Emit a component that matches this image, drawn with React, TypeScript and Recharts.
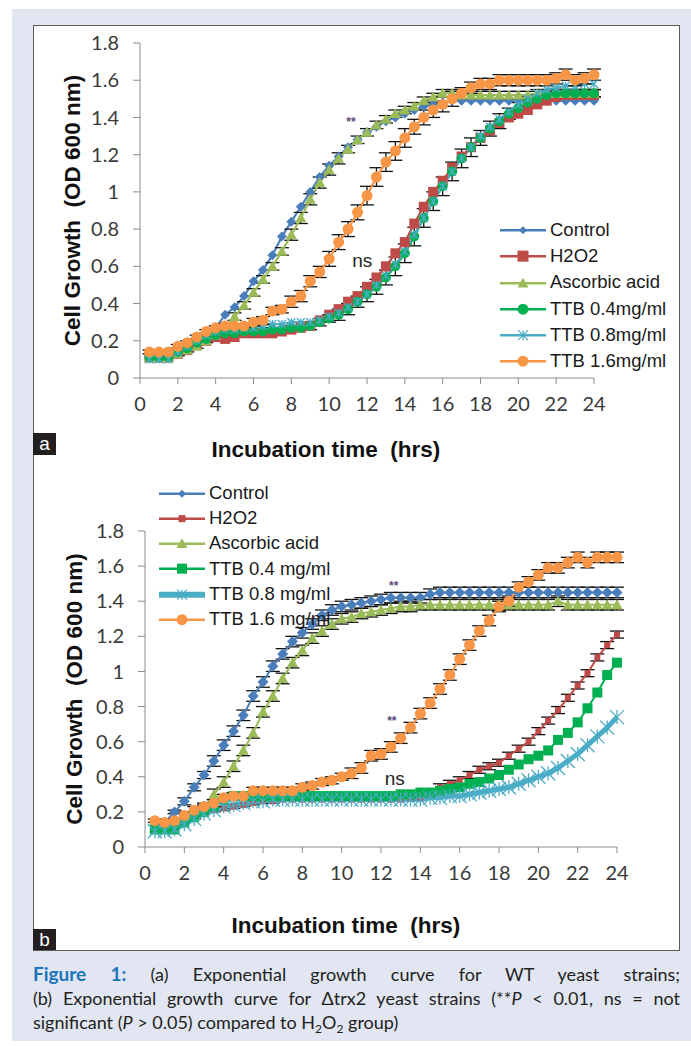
import React from 'react'
import { LineChart, Line, XAxis, YAxis, ErrorBar, Legend, ReferenceDot } from 'recharts'

// sampling times (h)
const hours = [
  0.5, 1, 1.5, 2, 2.5, 3, 3.5, 4,
  4.5, 5, 5.5, 6, 6.5, 7, 7.5, 8,
  8.5, 9, 9.5, 10, 10.5, 11, 11.5, 12,
  12.5, 13, 13.5, 14, 14.5, 15, 15.5, 16,
  16.5, 17, 17.5, 18, 18.5, 19, 19.5, 20,
  20.5, 21, 21.5, 22, 22.5, 23, 23.5, 24,
]
const xTicks = [0, 2, 4, 6, 8, 10, 12, 14, 16, 18, 20, 22, 24]
const yTicks = [0, 0.2, 0.4, 0.6, 0.8, 1, 1.2, 1.4, 1.6, 1.8]

// ---- panel a : WT ----
const aControl = [
  0.12, 0.12, 0.12, 0.15, 0.18, 0.2, 0.23, 0.27,
  0.34, 0.38, 0.44, 0.52, 0.58, 0.66, 0.76, 0.84,
  0.92, 1.0, 1.08, 1.14, 1.19, 1.24, 1.28, 1.32,
  1.35, 1.38, 1.4, 1.42, 1.44, 1.46, 1.47, 1.48,
  1.49, 1.49, 1.49, 1.49, 1.49, 1.49, 1.49, 1.49,
  1.49, 1.49, 1.49, 1.49, 1.49, 1.49, 1.49, 1.49,
]
const aH2O2 = [
  0.11, 0.11, 0.11, 0.13, 0.15, 0.18, 0.2, 0.22,
  0.21, 0.22, 0.24, 0.24, 0.24, 0.24, 0.25, 0.26,
  0.27, 0.28, 0.31, 0.34, 0.37, 0.41, 0.44, 0.49,
  0.54, 0.6, 0.67, 0.73, 0.83, 0.92, 1.0, 1.06,
  1.13, 1.19, 1.24, 1.29, 1.33, 1.37, 1.4, 1.42,
  1.44, 1.47, 1.49, 1.51, 1.52, 1.52, 1.52, 1.52,
]
const aAsc = [
  0.11, 0.11, 0.11, 0.13, 0.15, 0.17, 0.2, 0.23,
  0.27, 0.33, 0.39, 0.46, 0.53, 0.6, 0.68, 0.77,
  0.86, 0.96, 1.05, 1.12, 1.18, 1.23, 1.28, 1.32,
  1.36, 1.39, 1.42, 1.44, 1.46, 1.49, 1.51, 1.53,
  1.53, 1.52, 1.52, 1.52, 1.52, 1.52, 1.52, 1.52,
  1.52, 1.53, 1.53, 1.53, 1.53, 1.53, 1.53, 1.53,
]
const aT04 = [
  0.11, 0.11, 0.11, 0.14, 0.16, 0.19, 0.21, 0.23,
  0.24, 0.24, 0.25, 0.25, 0.25, 0.26, 0.26, 0.27,
  0.27, 0.28, 0.3, 0.32, 0.34, 0.37, 0.41, 0.45,
  0.49, 0.54, 0.6, 0.67, 0.76, 0.86, 0.95, 1.03,
  1.11, 1.18, 1.24, 1.29, 1.34, 1.38, 1.42, 1.45,
  1.48, 1.5, 1.52, 1.53, 1.53, 1.53, 1.53, 1.53,
]
const aT08 = [
  0.1, 0.1, 0.1, 0.14, 0.17, 0.2, 0.23, 0.25,
  0.26, 0.26, 0.27, 0.27, 0.28, 0.29, 0.29, 0.3,
  0.3, 0.3, 0.31, 0.33, 0.35, 0.38, 0.41, 0.45,
  0.5, 0.55, 0.61, 0.68, 0.77, 0.86, 0.95, 1.03,
  1.11, 1.18, 1.24, 1.3, 1.35, 1.39, 1.43, 1.47,
  1.5, 1.53, 1.55, 1.56, 1.57, 1.57, 1.58, 1.58,
]
const aT16 = [
  0.14, 0.14, 0.14, 0.17, 0.19, 0.22, 0.25, 0.27,
  0.28, 0.28, 0.28, 0.3, 0.31, 0.36, 0.37, 0.41,
  0.44, 0.52, 0.57, 0.64, 0.73, 0.8, 0.89, 0.98,
  1.08, 1.16, 1.22, 1.29, 1.35, 1.4, 1.44, 1.47,
  1.5, 1.53, 1.56, 1.58, 1.58, 1.6, 1.6, 1.6,
  1.6, 1.6, 1.6, 1.61, 1.63, 1.6, 1.61, 1.63,
]
const aErrAsc = [
  0, 0, 0, 0.01, 0.01, 0.01, 0.01, 0.01,
  0.02, 0.02, 0.02, 0.02, 0.02, 0.02, 0.02, 0.03,
  0.03, 0.03, 0.03, 0.03, 0.03, 0.02, 0.02, 0.02,
  0.02, 0.02, 0.02, 0.02, 0.02, 0.02, 0.02, 0.02,
  0.02, 0.02, 0.02, 0.02, 0.02, 0.02, 0.02, 0.02,
  0.02, 0.02, 0.02, 0.02, 0.02, 0.02, 0.02, 0.02,
]
const aErrT04 = [
  0, 0, 0, 0.01, 0.01, 0.01, 0.01, 0.01,
  0.01, 0.01, 0.01, 0.01, 0.01, 0.01, 0.01, 0.01,
  0.01, 0.02, 0.02, 0.02, 0.03, 0.03, 0.03, 0.04,
  0.04, 0.04, 0.05, 0.05, 0.05, 0.05, 0.05, 0.05,
  0.05, 0.05, 0.05, 0.04, 0.04, 0.04, 0.03, 0.03,
  0.03, 0.02, 0.02, 0.02, 0.02, 0.02, 0.02, 0.02,
]
const aErrT16 = [
  0.01, 0.01, 0.01, 0.01, 0.01, 0.01, 0.01, 0.01,
  0.01, 0.01, 0.01, 0.02, 0.02, 0.02, 0.02, 0.03,
  0.03, 0.03, 0.03, 0.04, 0.04, 0.04, 0.04, 0.05,
  0.05, 0.05, 0.05, 0.05, 0.04, 0.04, 0.04, 0.04,
  0.04, 0.03, 0.03, 0.03, 0.03, 0.03, 0.03, 0.03,
  0.03, 0.03, 0.03, 0.03, 0.03, 0.03, 0.03, 0.03,
]

// ---- panel b : Δtrx2 ----
const bControl = [
  0.12, 0.14, 0.2, 0.26, 0.34, 0.41, 0.49, 0.58,
  0.66, 0.75, 0.86, 0.94, 1.03, 1.1, 1.17, 1.22,
  1.27, 1.32, 1.35, 1.37, 1.38, 1.39, 1.4, 1.41,
  1.42, 1.42, 1.42, 1.42, 1.44, 1.45, 1.45, 1.45,
  1.45, 1.45, 1.45, 1.45, 1.45, 1.45, 1.45, 1.45,
  1.45, 1.45, 1.45, 1.45, 1.45, 1.45, 1.45, 1.45,
]
const bH2O2 = [
  0.11, 0.11, 0.12, 0.15, 0.18, 0.2, 0.21, 0.22,
  0.23, 0.24, 0.25, 0.26, 0.26, 0.27, 0.27, 0.27,
  0.27, 0.27, 0.27, 0.27, 0.27, 0.27, 0.27, 0.27,
  0.27, 0.27, 0.28, 0.28, 0.3, 0.34, 0.36, 0.38,
  0.41, 0.44, 0.46, 0.48, 0.52, 0.56, 0.6, 0.66,
  0.72, 0.78, 0.85, 0.92, 0.99, 1.08, 1.15, 1.21,
]
const bAsc = [
  0.11, 0.11, 0.12, 0.15, 0.18, 0.22, 0.3, 0.37,
  0.46, 0.55, 0.65, 0.77, 0.86, 0.96, 1.05, 1.12,
  1.19, 1.23, 1.27, 1.3, 1.31, 1.33, 1.34, 1.35,
  1.36, 1.37, 1.37, 1.38, 1.38, 1.38, 1.38, 1.38,
  1.38, 1.38, 1.38, 1.38, 1.38, 1.38, 1.38, 1.38,
  1.38, 1.4, 1.38, 1.38, 1.38, 1.38, 1.38, 1.38,
]
const bT04 = [
  0.1, 0.1, 0.1, 0.14, 0.17, 0.2, 0.23, 0.27,
  0.29, 0.29, 0.29, 0.29, 0.29, 0.29, 0.29, 0.29,
  0.29, 0.29, 0.29, 0.29, 0.29, 0.29, 0.29, 0.29,
  0.29, 0.3, 0.3, 0.31, 0.31, 0.32, 0.33, 0.34,
  0.36, 0.37, 0.39, 0.41, 0.44, 0.47, 0.5, 0.52,
  0.55, 0.61, 0.65, 0.71, 0.79, 0.88, 0.98, 1.05,
]
const bT08 = [
  0.09, 0.09, 0.1, 0.13, 0.16, 0.19, 0.21, 0.23,
  0.24, 0.25, 0.26, 0.26, 0.27, 0.27, 0.27, 0.27,
  0.27, 0.27, 0.27, 0.27, 0.27, 0.27, 0.27, 0.27,
  0.27, 0.27, 0.27, 0.27, 0.28, 0.28, 0.29, 0.29,
  0.3, 0.31, 0.32, 0.33, 0.34, 0.36, 0.38, 0.4,
  0.42, 0.45, 0.49, 0.53, 0.58, 0.63, 0.68, 0.74,
]
const bT16 = [
  0.15, 0.14, 0.15, 0.18, 0.21, 0.23, 0.25, 0.28,
  0.29, 0.29, 0.32, 0.32, 0.32, 0.32, 0.32, 0.34,
  0.35, 0.37, 0.38, 0.4, 0.42, 0.45, 0.52, 0.53,
  0.57, 0.62, 0.68, 0.76, 0.82, 0.9, 0.98, 1.07,
  1.15, 1.23, 1.29, 1.37, 1.4, 1.48, 1.51, 1.55,
  1.59, 1.59, 1.62, 1.65, 1.62, 1.65, 1.65, 1.65,
]
const bErrCtrl = [
  0, 0.01, 0.01, 0.02, 0.02, 0.02, 0.03, 0.03,
  0.03, 0.03, 0.03, 0.03, 0.03, 0.03, 0.03, 0.03,
  0.03, 0.03, 0.03, 0.03, 0.03, 0.03, 0.03, 0.03,
  0.03, 0.03, 0.03, 0.03, 0.03, 0.03, 0.03, 0.03,
  0.03, 0.03, 0.03, 0.03, 0.03, 0.03, 0.03, 0.03,
  0.03, 0.03, 0.03, 0.03, 0.03, 0.03, 0.03, 0.03,
]
const bErrAsc = [
  0, 0, 0.01, 0.01, 0.02, 0.02, 0.03, 0.03,
  0.03, 0.03, 0.03, 0.03, 0.03, 0.03, 0.03, 0.03,
  0.03, 0.03, 0.03, 0.03, 0.03, 0.03, 0.03, 0.03,
  0.03, 0.03, 0.03, 0.03, 0.03, 0.03, 0.03, 0.03,
  0.03, 0.03, 0.03, 0.03, 0.03, 0.03, 0.03, 0.03,
  0.03, 0.03, 0.03, 0.03, 0.03, 0.03, 0.03, 0.03,
]
const bErrT16 = [
  0.01, 0.01, 0.01, 0.02, 0.02, 0.02, 0.02, 0.02,
  0.02, 0.02, 0.02, 0.02, 0.02, 0.02, 0.02, 0.02,
  0.02, 0.02, 0.02, 0.02, 0.03, 0.03, 0.03, 0.03,
  0.03, 0.03, 0.03, 0.03, 0.03, 0.03, 0.03, 0.03,
  0.03, 0.03, 0.03, 0.03, 0.03, 0.03, 0.03, 0.03,
  0.03, 0.03, 0.03, 0.03, 0.03, 0.03, 0.03, 0.03,
]
const bErrH2O2 = [
  0, 0, 0, 0.01, 0.01, 0.01, 0.01, 0.01,
  0.01, 0.01, 0.01, 0.01, 0.01, 0.01, 0.01, 0.01,
  0.01, 0.01, 0.01, 0.01, 0.01, 0.01, 0.01, 0.01,
  0.01, 0.01, 0.01, 0.01, 0.02, 0.02, 0.02, 0.02,
  0.02, 0.02, 0.02, 0.02, 0.02, 0.02, 0.02, 0.02,
  0.02, 0.02, 0.02, 0.02, 0.02, 0.02, 0.02, 0.02,
]

// annotations (text placed at data coords)
const aNotes = [
  { t: 11.15, v: 1.375, text: '**' },
  { t: 11.75, v: 0.63, text: 'ns' },
]
const bNotes = [
  { t: 12.65, v: 1.49, text: '**' },
  { t: 12.55, v: 0.72, text: '**' },
  { t: 12.7, v: 0.39, text: 'ns' },
]

const rowsA = hours.map((t, i) => ({
  t, ctrl: aControl[i], h2o2: aH2O2[i], asc: aAsc[i], t04: aT04[i], t08: aT08[i], t16: aT16[i],
  ascErr: aErrAsc[i], t04Err: aErrT04[i], t16Err: aErrT16[i],
}))
const rowsB = hours.map((t, i) => ({
  t, ctrl: bControl[i], h2o2: bH2O2[i], asc: bAsc[i], t04: bT04[i], t08: bT08[i], t16: bT16[i],
  ctrlErr: bErrCtrl[i], ascErr: bErrAsc[i], t16Err: bErrT16[i], h2o2Err: bErrH2O2[i],
}))

const BLUE = '#4a7ebb'
const RED = '#be4b48'
const OLIVE = '#9bbb59'
const GREEN = '#00b050'
const TEAL = '#4bacc6'
const ORANGE = '#f79646'

type Shape = 'diamond' | 'square' | 'triangle' | 'circle' | 'star'
interface SeriesDef {
  key: string; name: string; color: string; shape: Shape
  size: number; width: number; legendSize: number; legendWidth: number; err?: string
}

const seriesA: SeriesDef[] = [
  { key: 'ctrl', name: 'Control', color: BLUE, shape: 'diamond', size: 10, width: 2.2, legendSize: 8, legendWidth: 2.5 },
  { key: 'h2o2', name: 'H2O2', color: RED, shape: 'square', size: 10, width: 2.2, legendSize: 11, legendWidth: 2.5 },
  { key: 'asc', name: 'Ascorbic acid', color: OLIVE, shape: 'triangle', size: 11, width: 2.2, legendSize: 11, legendWidth: 2.5, err: 'ascErr' },
  { key: 't04', name: 'TTB 0.4mg/ml', color: GREEN, shape: 'circle', size: 10, width: 2.2, legendSize: 11, legendWidth: 2.5, err: 't04Err' },
  { key: 't08', name: 'TTB 0.8mg/ml', color: TEAL, shape: 'star', size: 8, width: 2.2, legendSize: 10, legendWidth: 2.5 },
  { key: 't16', name: 'TTB 1.6mg/ml', color: ORANGE, shape: 'circle', size: 11, width: 2.2, legendSize: 11, legendWidth: 2.5, err: 't16Err' },
]
const seriesB: SeriesDef[] = [
  { key: 'ctrl', name: 'Control', color: BLUE, shape: 'diamond', size: 11, width: 2, legendSize: 8, legendWidth: 2.5, err: 'ctrlErr' },
  { key: 'h2o2', name: 'H2O2', color: RED, shape: 'square', size: 6, width: 2, legendSize: 7, legendWidth: 2.5, err: 'h2o2Err' },
  { key: 'asc', name: 'Ascorbic acid', color: OLIVE, shape: 'triangle', size: 11, width: 2, legendSize: 11, legendWidth: 2.5, err: 'ascErr' },
  { key: 't04', name: 'TTB 0.4 mg/ml', color: GREEN, shape: 'square', size: 10, width: 2, legendSize: 10, legendWidth: 2.5 },
  { key: 't08', name: 'TTB 0.8 mg/ml', color: TEAL, shape: 'star', size: 14, width: 5, legendSize: 10, legendWidth: 6 },
  { key: 't16', name: 'TTB 1.6 mg/ml', color: ORANGE, shape: 'circle', size: 11, width: 2, legendSize: 11, legendWidth: 2.5, err: 't16Err' },
]

const SANS = '"Liberation Sans", Arial, sans-serif'
const titleStyle: React.CSSProperties = { fontFamily: SANS, fontWeight: 700, fontSize: 22.5, fill: '#111' }
const tickStyle = { fontSize: 20, fill: '#3a3a3a', fontFamily: 'Lato, sans-serif' }

function Marker({ shape, cx, cy, size, color }: { shape: Shape; cx: number; cy: number; size: number; color: string }) {
  const s = size / 2
  if (shape === 'diamond') return <polygon points={`${cx},${cy - s} ${cx + s},${cy} ${cx},${cy + s} ${cx - s},${cy}`} fill={color} />
  if (shape === 'square') return <rect x={cx - s} y={cy - s} width={size} height={size} fill={color} />
  if (shape === 'triangle') return <polygon points={`${cx},${cy - s} ${cx + s},${cy + s * 0.8} ${cx - s},${cy + s * 0.8}`} fill={color} />
  if (shape === 'circle') return <circle cx={cx} cy={cy} r={s} fill={color} />
  return (
    <g stroke={color} strokeWidth={1.3}>
      <line x1={cx - s} y1={cy - s} x2={cx + s} y2={cy + s} />
      <line x1={cx + s} y1={cy - s} x2={cx - s} y2={cy + s} />
      <line x1={cx} y1={cy - s} x2={cx} y2={cy + s} />
    </g>
  )
}

function dotFor(d: SeriesDef) {
  return (p: any) => {
    if (p.cx == null || p.cy == null) return <g key={`e-${d.key}-${p.index}`} />
    return (
      <g key={`m-${d.key}-${p.index}`}>
        <Marker shape={d.shape} cx={p.cx} cy={p.cy} size={d.size} color={d.color} />
      </g>
    )
  }
}

function legendFor(defs: SeriesDef[], rowH: number) {
  return () => (
    <div style={{ fontFamily: SANS, fontSize: 18.5, color: '#1a1a1a' }}>
      {defs.map((d) => (
        <div key={d.key} style={{ display: 'flex', alignItems: 'center', height: rowH }}>
          <svg width={48} height={rowH} style={{ display: 'block' }}>
            <line x1={1} y1={rowH / 2} x2={47} y2={rowH / 2} stroke={d.color} strokeWidth={d.legendWidth} />
            <Marker shape={d.shape} cx={24} cy={rowH / 2} size={d.legendSize} color={d.color} />
          </svg>
          <span style={{ marginLeft: 3, whiteSpace: 'nowrap', lineHeight: 1 }}>{d.name}</span>
        </div>
      ))}
    </div>
  )
}

function xTitle(dx: number, dy: number) {
  return (props: any) => {
    const vb = props.viewBox ?? { x: 0, y: 0, width: 0, height: 0 }
    return (
      <text x={vb.x + vb.width / 2 + dx} y={vb.y + dy} textAnchor="middle" dominantBaseline="central" style={titleStyle}>
        {'Incubation time\u00a0 (hrs)'}
      </text>
    )
  }
}

function yTitle(cx: number) {
  return (props: any) => {
    const vb = props.viewBox ?? { x: 0, y: 0, width: 0, height: 0 }
    const cy = vb.y + vb.height / 2
    return (
      <text x={cx} y={cy} transform={`rotate(-90 ${cx} ${cy})`} textAnchor="middle" dominantBaseline="central" style={titleStyle}>
        {'Cell Growth\u00a0 (OD 600 nm)'}
      </text>
    )
  }
}

function noteLabel(text: string) {
  return text === 'ns'
    ? { value: text, position: 'center' as const, fill: '#262626', fontSize: 19, fontFamily: SANS }
    : { value: text, position: 'center' as const, fill: '#5e4a7d', fontSize: 12, fontFamily: SANS, fontWeight: 700 }
}

interface PanelProps {
  rows: any[]; defs: SeriesDef[]; notes: { t: number; v: number; text: string }[]
  height: number; margin: { top: number; right: number; bottom: number; left: number }
  legendPos: { left: number; top: number }; rowH: number
  xTitleDx: number; xTitleDy: number; yTitleX: number
}

function Panel({ rows, defs, notes, height, margin, legendPos, rowH, xTitleDx, xTitleDy, yTitleX }: PanelProps) {
  return (
    <LineChart width={691} height={height} data={rows} margin={margin}>
      <XAxis
        dataKey="t" type="number" domain={[0, 24]} ticks={xTicks} interval={0} height={30}
        tick={tickStyle} tickSize={6} tickMargin={13}
        axisLine={{ stroke: '#8c8c8c' }} tickLine={{ stroke: '#8c8c8c' }}
        label={xTitle(xTitleDx, xTitleDy)}
      />
      <YAxis
        type="number" domain={[0, 1.8]} ticks={yTicks} interval={0} width={40}
        tick={tickStyle} tickSize={7} tickMargin={14}
        axisLine={{ stroke: '#8c8c8c' }} tickLine={{ stroke: '#8c8c8c' }}
        label={yTitle(yTitleX)}
      />
      <Legend
        layout="vertical" align="center" verticalAlign="middle"
        wrapperStyle={{ left: legendPos.left, top: legendPos.top, width: 190 }}
        content={legendFor(defs, rowH)}
      />
      {defs.map((d) => (
        <Line
          key={d.key} dataKey={d.key} name={d.name} type="linear"
          stroke={d.color} strokeWidth={d.width}
          dot={dotFor(d)} activeDot={false} isAnimationActive={false}
        >
          {d.err ? (
            <ErrorBar dataKey={d.err} direction="y" width={7} stroke="#111" strokeWidth={1.3} isAnimationActive={false} />
          ) : null}
        </Line>
      ))}
      {notes.map((n, i) => (
        <ReferenceDot key={i} x={n.t} y={n.v} r={0} fill="none" stroke="none" label={noteLabel(n.text)} />
      ))}
    </LineChart>
  )
}

function Tag({ letter, top, h }: { letter: string; top: number; h: number }) {
  return (
    <div style={{
      position: 'absolute', left: 33, top, width: 23, height: h, background: '#231f20', color: '#fff',
      fontFamily: SANS, fontSize: 19, lineHeight: `${h}px`, textAlign: 'center',
    }}>{letter}</div>
  )
}

const sub: React.CSSProperties = { fontSize: 12, verticalAlign: -4, lineHeight: 0 }
const justLine: React.CSSProperties = { textAlign: 'justify', textAlignLast: 'justify', whiteSpace: 'nowrap' }

export default function App() {
  return (
    <div style={{ position: 'absolute', left: 0, top: 0, width: 691, height: 1046, background: '#fff', overflow: 'hidden' }}>
      <div style={{ position: 'absolute', left: 12, top: 9, width: 679, height: 1032, background: '#e1e6f2' }} />
      <div style={{ position: 'absolute', left: 33, top: 25, width: 645, height: 924, background: '#fff', border: '1px solid #5a5a5a' }} />

      <div style={{ position: 'absolute', left: 0, top: 0 }}>
        <Panel
          rows={rowsA} defs={seriesA} notes={aNotes} height={470}
          margin={{ top: 43, right: 97, bottom: 62, left: 100 }}
          legendPos={{ left: 499, top: 217 }} rowH={26.3}
          xTitleDx={-41} xTitleDy={71} yTitleX={72}
        />
      </div>
      <div style={{ position: 'absolute', left: 0, top: 470 }}>
        <Panel
          rows={rowsB} defs={seriesB} notes={bNotes} height={480}
          margin={{ top: 61, right: 74, bottom: 73, left: 105 }}
          legendPos={{ left: 158, top: 10.5 }} rowH={25.3}
          xTitleDx={-35} xTitleDy={78} yTitleX={74}
        />
      </div>

      <Tag letter="a" top={433} h={22} />
      <Tag letter="b" top={929} h={21} />

      <div style={{
        position: 'absolute', left: 33, top: 962, width: 647,
        fontFamily: 'Lato, sans-serif', fontSize: 18, lineHeight: '24px', color: '#231f20',
      }}>
        <div style={justLine}>
          <b style={{ color: '#1a75bb', fontSize: 19 }}>Figure 1:</b> (a) Exponential growth curve for WT yeast strains;
        </div>
        <div style={justLine}>
          (b) Exponential growth curve for Δtrx2 yeast strains (**<i>P</i> &lt; 0.01, ns = not
        </div>
        <div>
          significant (<i>P</i> &gt; 0.05) compared to H<span style={sub}>2</span>O<span style={sub}>2</span> group)
        </div>
      </div>
    </div>
  )
}
